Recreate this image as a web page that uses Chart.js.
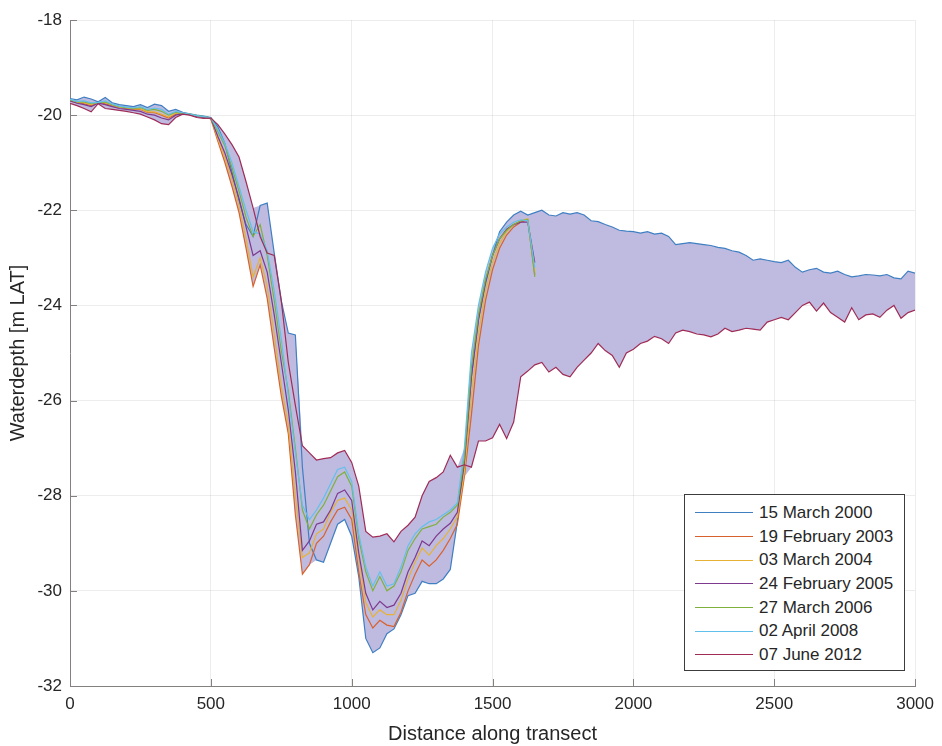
<!DOCTYPE html>
<html>
<head>
<meta charset="utf-8">
<script src="https://cdn.jsdelivr.net/npm/chart.js@4.4.1/dist/chart.umd.min.js"></script>
<style>
  html, body { margin: 0; padding: 0; background: #fff; }
  #wrap { position: relative; width: 942px; height: 746px; }
  #profileChart { position: absolute; left: 0; top: 0; }
  #legendBox {
    position: absolute; left: 684px; top: 494px; width: 221px; height: 177px;
    box-sizing: border-box; border: 1px solid #3c3c3c; background: #fff;
    padding-top: 6px; font-family: "Liberation Sans", Arial, sans-serif;
    font-size: 17px; color: #262626;
  }
  .row { display: flex; align-items: center; height: 23.7px; white-space: nowrap; }
  .swatch { width: 58px; margin-left: 10px; margin-right: 6px; border-top: 1.2px solid; }
</style>
</head>
<body>
<div id="wrap">
  <canvas id="profileChart" width="942" height="746"></canvas>
  <div id="legendBox"></div>
</div>
<script>
// distance along the transect, sampled every 25 m
const step = 25;
const dist = Array.from({ length: 121 }, (_, i) => i * step);

const surveyLabels = ['15 March 2000', '19 February 2003', '03 March 2004', '24 February 2005',
                      '27 March 2006', '02 April 2008', '07 June 2012'];
const surveyColors = ['#3f7fc2', '#d8612e', '#e6b236', '#7e3a8e', '#7fb03e', '#62c0ea', '#a02c56'];

// water depth [m LAT] per survey; the shorter surveys stop at 1650 m
const d2000 = [
  -19.65, -19.68, -19.62, -19.66, -19.72, -19.63, -19.74, -19.78, -19.80, -19.82, -19.78,
  -19.84, -19.77, -19.80, -19.92, -19.88, -19.94, -19.97, -20.00, -20.02, -20.05,
  -20.25, -20.6, -21.2, -21.8, -22.3, -22.55, -21.9, -21.85, -22.9, -23.9, -24.58, -24.62, -27.4,
  -29.0, -29.35, -29.4, -29.0, -28.6, -28.5, -28.85, -29.7, -31.0, -31.3, -31.2, -30.9,
  -30.8, -30.5, -30.1, -30.05, -29.8, -29.85, -29.85, -29.75, -29.55, -28.55, -27.3,
  -25.5, -24.3, -23.55, -22.95, -22.45, -22.25, -22.1, -22.02, -22.1, -22.05,
  -22.0, -22.1, -22.12, -22.05, -22.08, -22.05, -22.1, -22.22, -22.24, -22.3, -22.35,
  -22.42, -22.44, -22.45, -22.48, -22.45, -22.5, -22.48, -22.55, -22.72, -22.7, -22.68,
  -22.7, -22.72, -22.74, -22.78, -22.8, -22.85, -22.88, -22.95, -23.05, -23.02, -23.05,
  -23.08, -23.1, -23.05, -23.2, -23.3, -23.25, -23.22, -23.3, -23.32, -23.28, -23.35,
  -23.4, -23.38, -23.35, -23.36, -23.38, -23.35, -23.42, -23.44, -23.28, -23.32
];
const d2003 = [
  -19.70, -19.74, -19.76, -19.80, -19.74, -19.76, -19.80, -19.84, -19.86, -19.88, -19.88,
  -19.94, -19.95, -20.00, -20.06, -19.98, -19.96, -19.99, -20.02, -20.04, -20.08,
  -20.55, -21.0, -21.5, -22.05, -22.8, -23.6, -23.15, -23.85, -24.9, -25.9, -26.7, -28.4, -29.65,
  -29.45, -29.0, -28.85, -28.55, -28.3, -28.24, -28.5, -29.6, -30.5, -30.78, -30.62, -30.72,
  -30.75, -30.45, -30.0, -29.65, -29.35, -29.48, -29.35, -29.15, -28.9, -28.6, -27.6,
  -26.3, -24.85, -23.9, -23.25, -22.8, -22.52, -22.35, -22.25, -22.2, -23.35
];
const d2004 = [
  -19.69, -19.72, -19.74, -19.78, -19.74, -19.74, -19.79, -19.83, -19.85, -19.87, -19.87,
  -19.93, -19.93, -19.98, -20.04, -19.96, -19.96, -19.98, -20.02, -20.04, -20.07,
  -20.5, -20.9, -21.35, -21.9, -22.6, -23.4, -23.0, -23.6, -24.6, -25.7, -26.5, -28.0, -29.3,
  -29.2, -28.8, -28.7, -28.35, -28.1, -28.05, -28.3, -29.3, -30.25, -30.55, -30.4, -30.5,
  -30.5, -30.2, -29.75, -29.4, -29.1, -29.25, -29.05, -28.9, -28.7, -28.45, -27.5,
  -25.9, -24.6, -23.7, -23.1, -22.7, -22.45, -22.3, -22.22, -22.18, -23.3
];
const d2005 = [
  -19.70, -19.75, -19.78, -19.82, -19.75, -19.78, -19.82, -19.86, -19.88, -19.90, -19.92,
  -19.98, -20.00, -20.06, -20.10, -20.00, -19.97, -19.99, -20.03, -20.05, -20.07,
  -20.45, -20.8, -21.25, -21.75, -22.35, -22.95, -22.85, -23.3, -24.2, -25.2, -26.2, -27.5, -29.15,
  -28.95, -28.6, -28.55, -28.3, -27.95, -27.88, -28.1, -29.2, -30.05, -30.4, -30.22, -30.35,
  -30.3, -30.05, -29.6, -29.3, -28.95, -29.05, -28.85, -28.7, -28.58, -28.35, -27.3,
  -25.5, -24.3, -23.5, -22.95, -22.6, -22.4, -22.3, -22.25, -22.25, -23.1
];
const d2006 = [
  -19.68, -19.72, -19.72, -19.76, -19.74, -19.72, -19.78, -19.82, -19.84, -19.86, -19.84,
  -19.90, -19.88, -19.92, -20.00, -19.94, -19.96, -19.98, -20.01, -20.03, -20.06,
  -20.35, -20.65, -21.1, -21.6, -22.15, -22.55, -22.3, -22.95, -23.9, -24.95, -25.8, -27.0, -28.3,
  -28.7, -28.4, -28.2, -27.9, -27.6, -27.5, -27.8, -28.9, -29.6, -30.0, -29.7, -30.0,
  -29.9, -29.6, -29.15, -28.9, -28.7, -28.65, -28.6, -28.45, -28.35, -28.2, -27.2,
  -25.3, -24.2, -23.45, -22.95, -22.6, -22.42, -22.3, -22.22, -22.2, -23.4
];
const d2008 = [
  -19.67, -19.71, -19.70, -19.74, -19.73, -19.70, -19.77, -19.81, -19.83, -19.85, -19.82,
  -19.88, -19.85, -19.88, -19.98, -19.92, -19.95, -19.98, -20.01, -20.03, -20.06,
  -20.3, -20.6, -21.0, -21.5, -22.0, -22.45, -22.5, -22.85, -23.7, -24.7, -25.9, -27.1, -28.2,
  -28.5, -28.3, -28.05, -27.75, -27.45, -27.4, -27.7, -28.8, -29.5, -29.9, -29.6, -29.9,
  -29.85, -29.5, -29.05, -28.8, -28.65, -28.55, -28.5, -28.4, -28.3, -28.15, -27.0,
  -25.0, -24.0, -23.3, -22.8, -22.5, -22.35, -22.25, -22.2, -22.22, -23.2
];
const d2012 = [
  -19.75, -19.80, -19.86, -19.93, -19.76, -19.86, -19.88, -19.90, -19.92, -19.95, -19.98,
  -20.04, -20.10, -20.18, -20.20, -20.05, -19.98, -20.00, -20.05, -20.07, -20.06,
  -20.2, -20.4, -20.62, -20.88, -21.4, -21.95, -22.55, -22.9, -22.95, -23.9, -25.2, -26.1, -26.95,
  -27.1, -27.25, -27.22, -27.2, -27.1, -27.05, -27.3, -27.8, -28.75, -28.87, -28.85, -28.8,
  -28.97, -28.75, -28.62, -28.45, -28.0, -27.7, -27.62, -27.5, -27.15, -27.4, -27.35,
  -27.4, -26.85, -26.85, -26.78, -26.5, -26.8, -26.45, -25.5, -25.38, -25.25,
  -25.2, -25.4, -25.3, -25.45, -25.5, -25.3, -25.15, -25.0, -24.8, -24.95, -25.05,
  -25.3, -25.0, -24.92, -24.8, -24.75, -24.65, -24.7, -24.8, -24.58, -24.52, -24.55,
  -24.6, -24.62, -24.66, -24.6, -24.48, -24.55, -24.52, -24.48, -24.5, -24.52, -24.35,
  -24.3, -24.25, -24.3, -24.15, -24.0, -23.93, -24.12, -23.95, -24.15, -24.25, -24.35,
  -24.05, -24.3, -24.2, -24.18, -24.25, -24.1, -24.0, -24.27, -24.15, -24.1
];

const surveys = [d2000, d2003, d2004, d2005, d2006, d2008, d2012];
const depthTicks = { min: -32, max: -18, step: 2 };
const distTicks = { min: 0, max: 3000, step: 500 };

const axisColor = '#858080';
const textColor = '#262626';
const fontFamily = '"Liberation Sans", Arial, sans-serif';

const toPoints = arr => arr.map((y, i) => ({ x: dist[i], y }));

// range spanned by all surveys at each distance
const envHigh = dist.map((x, i) => {
  const vals = surveys.map(s => s[i]).filter(v => v !== undefined);
  return { x, y: Math.max(...vals) };
});
const envLow = dist.map((x, i) => {
  const vals = surveys.map(s => s[i]).filter(v => v !== undefined);
  return { x, y: Math.min(...vals) };
});

const datasets = surveys.map((s, i) => ({
  label: surveyLabels[i],
  data: toPoints(s),
  borderColor: surveyColors[i],
  borderWidth: 1.2,
  pointRadius: 0,
  tension: 0,
  fill: false,
  order: surveys.length - i
}));
datasets.push({
  label: 'envHigh', data: envHigh, borderWidth: 0, pointRadius: 0, fill: false, order: 20
});
datasets.push({
  label: 'envLow', data: envLow, borderWidth: 0, pointRadius: 0,
  fill: '-1', backgroundColor: '#bfbbe0', order: 20
});

// MATLAB-style ticks pointing into the plot
const inwardTicks = {
  id: 'inwardTicks',
  afterDatasetsDraw(chart) {
    const { ctx, chartArea, scales: { x, y } } = chart;
    ctx.save();
    ctx.strokeStyle = axisColor;
    ctx.lineWidth = 1;
    ctx.beginPath();
    x.ticks.forEach(t => {
      const px = Math.round(x.getPixelForValue(t.value)) + 0.5;
      ctx.moveTo(px, chartArea.bottom);
      ctx.lineTo(px, chartArea.bottom - 7);
    });
    y.ticks.forEach(t => {
      const py = Math.round(y.getPixelForValue(t.value)) + 0.5;
      ctx.moveTo(chartArea.left, py);
      ctx.lineTo(chartArea.left + 7, py);
    });
    ctx.stroke();
    ctx.restore();
  }
};

const ctx = document.getElementById('profileChart').getContext('2d');
window.profileChart = new Chart(ctx, {
  type: 'line',
  data: { datasets: datasets },
  options: {
    responsive: false,
    animation: false,
    events: [],
    layout: { padding: { left: 0, top: 20, right: 23, bottom: 0 } },
    plugins: {
      legend: { display: false },
      tooltip: { enabled: false },
      filler: { drawTime: 'beforeDatasetsDraw' }
    },
    scales: {
      x: {
        type: 'linear',
        min: distTicks.min,
        max: distTicks.max,
        ticks: {
          stepSize: distTicks.step, padding: 8, color: textColor,
          font: { family: fontFamily, size: 17 },
          callback: v => String(v)
        },
        grid: { color: 'rgba(0,0,0,0.07)', drawTicks: false },
        border: { color: axisColor, width: 1 },
        title: {
          display: true, text: 'Distance along transect', color: textColor,
          font: { family: fontFamily, size: 20 }, padding: { top: 0, bottom: 0 }
        },
        afterFit: scale => { scale.height = 60; }
      },
      y: {
        min: depthTicks.min,
        max: depthTicks.max,
        ticks: {
          stepSize: depthTicks.step, padding: 8, color: textColor,
          font: { family: fontFamily, size: 17 },
          callback: v => String(v)
        },
        grid: { color: 'rgba(0,0,0,0.07)', drawTicks: false },
        border: { color: axisColor, width: 1 },
        title: {
          display: true, text: 'Waterdepth [m LAT]', color: textColor,
          font: { family: fontFamily, size: 20 }, padding: { top: 6, bottom: 0 }
        },
        afterFit: scale => { scale.width = 70; }
      }
    }
  },
  plugins: [inwardTicks]
});

// legend box in the lower right corner
const legendBox = document.getElementById('legendBox');
surveyLabels.forEach((label, i) => {
  const row = document.createElement('div');
  row.className = 'row';
  const swatch = document.createElement('span');
  swatch.className = 'swatch';
  swatch.style.borderTopColor = surveyColors[i];
  const text = document.createElement('span');
  text.textContent = label;
  row.appendChild(swatch);
  row.appendChild(text);
  legendBox.appendChild(row);
});
</script>
</body>
</html>
